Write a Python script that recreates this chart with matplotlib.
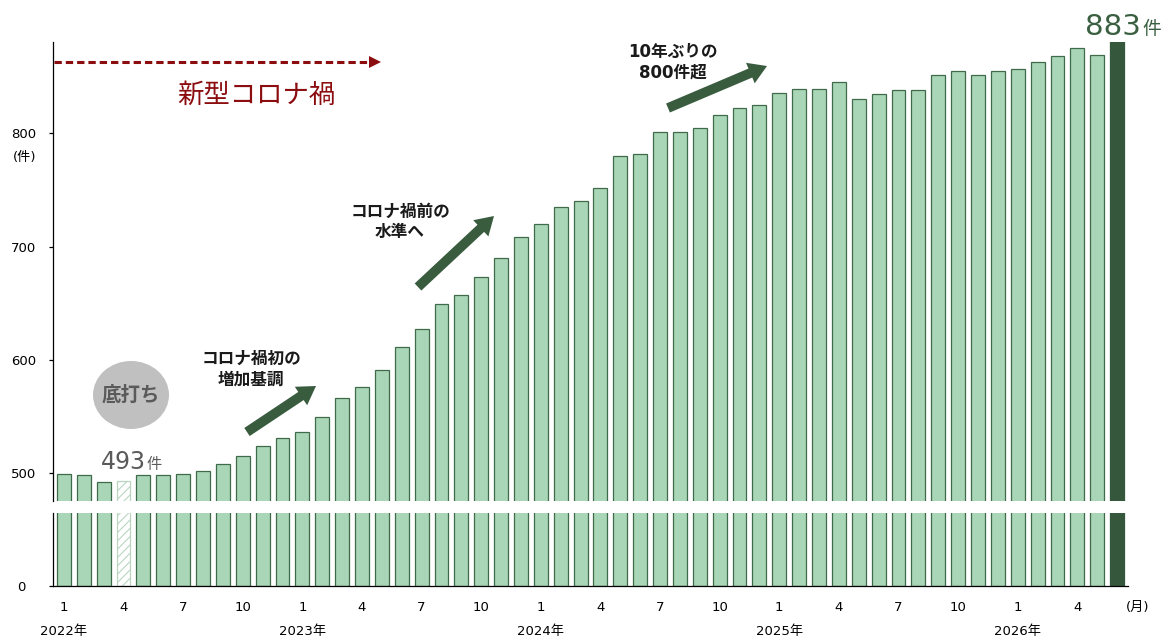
import matplotlib
matplotlib.use("Agg")
import matplotlib.pyplot as plt
import matplotlib.transforms as mtransforms
from matplotlib.lines import Line2D
from matplotlib.patches import Ellipse, FancyArrowPatch

# Latin text in a Verdana-like face, Japanese falls back to Noto CJK
plt.rcParams["font.family"] = ["DejaVu Sans", "Noto Sans CJK JP"]
plt.rcParams["hatch.linewidth"] = 0.8

# --- data -------------------------------------------------------------------
years = [2022, 2023, 2024, 2025, 2026]
months = [m for _ in years for m in range(1, 13)][:54]   # Jan 2022 .. Jun 2026
counts = [
    499, 498, 492, 493, 498, 498, 499, 502, 508, 515, 524, 531,   # 2022
    536, 549, 566, 576, 591, 611, 627, 649, 657, 673, 690, 708,   # 2023
    720, 735, 740, 752, 780, 782, 801, 801, 805, 816, 822, 825,   # 2024
    836, 839, 839, 845, 830, 835, 838, 838, 852, 855, 852, 855,   # 2025
    857, 863, 868, 875, 869, 883,                                 # 2026
]
low_idx = 3          # April 2022, the bottom (hatched)
last_idx = len(counts) - 1
month_ticks = [1, 4, 7, 10]
y_ticks = [500, 600, 700, 800]

LIGHT = "#a9d6b7"
EDGE = "#3f6b4a"
DARK = "#35573b"
ARROW = "#395c3f"
RED = "#8b0d10"

W, H = 1165, 639
fig = plt.figure(figsize=(W / 100, H / 100), dpi=100)


def fx(px):
    return px / W


def fy(py):
    return 1 - py / H


# broken y axis: upper panel for 476..881, lower stub from 0
ax_hi = fig.add_axes([fx(53), fy(500.5), fx(1128) - fx(53), fy(41.7) - fy(500.5)])
ax_lo = fig.add_axes([fx(53), fy(586), fx(1128) - fx(53), fy(513) - fy(586)])

x = list(range(len(counts)))
for ax in (ax_hi, ax_lo):
    bars = ax.bar(x, counts, width=0.7, color=LIGHT, edgecolor=EDGE, linewidth=0.9)
    bars[last_idx].set_facecolor(DARK)
    bars[last_idx].set_edgecolor(DARK)
    bars[low_idx].set_facecolor("white")
    bars[low_idx].set_edgecolor("#b9d5c0")
    bars[low_idx].set_hatch("////")
    ax.set_xlim(-0.55, len(counts) - 0.45)
    for s in ("top", "right"):
        ax.spines[s].set_visible(False)
    ax.spines["left"].set_linewidth(0.9)

ax_hi.set_ylim(475.6, 881)
ax_hi.spines["bottom"].set_visible(False)
ax_hi.set_xticks([])
ax_hi.set_yticks(y_ticks)
ax_hi.tick_params(axis="y", length=3, width=0.9, pad=9, labelsize=9.5)

ax_lo.set_ylim(0, 65)
ax_lo.set_yticks([0])
ax_lo.tick_params(axis="y", length=3, width=0.9, pad=17, labelsize=9.5)
ax_lo.spines["bottom"].set_linewidth(0.9)
tick_pos = [i for i, m in enumerate(months) if m in month_ticks]
ax_lo.set_xticks(tick_pos)
ax_lo.set_xticklabels([str(months[i]) for i in tick_pos])
ax_lo.tick_params(axis="x", length=0, pad=11, labelsize=9.5)

# year labels under each January
trans = mtransforms.blended_transform_factory(ax_lo.transData, fig.transFigure)
for k, yr in enumerate(years):
    ax_lo.text(k * 12, fy(632), f"{yr}年", transform=trans, ha="center",
               va="center", fontsize=9.5)

fig.text(fx(1138), fy(607), "(月)", ha="center", va="center", fontsize=9.5)
fig.text(fx(25), fy(157), "(件)", ha="center", va="center", fontsize=9.5)

# --- annotations ------------------------------------------------------------
# red dashed COVID period arrow
fig.add_artist(Line2D([fx(54), fx(372)], [fy(62), fy(62)], color=RED, lw=2.2,
                      ls=(0, (2.4, 1.3))))
fig.add_artist(Line2D([fx(375)], [fy(62)], color=RED, marker=">", ms=9, mew=0))
fig.text(fx(256), fy(96), "新型コロナ禍", color=RED, fontsize=19,
         ha="center", va="center")

# bottom marker
fig.add_artist(Ellipse((1.31, (H - 395) / 100), 0.76, 0.68,
                       transform=fig.dpi_scale_trans, color="#c0c0c0", lw=0))
fig.text(fx(131), fy(395), "底打ち", color="#5a5a5a", fontsize=14,
         weight="bold", ha="center", va="center")
fig.text(fx(146), fy(469), str(counts[low_idx]), color="#5a5a5a", fontsize=17,
         ha="right", va="baseline")
fig.text(fx(147), fy(469), "件", color="#5a5a5a", fontsize=11,
         ha="left", va="baseline")

fig.text(fx(1141), fy(35), str(counts[last_idx]), color="#3b6041", fontsize=21,
         ha="right", va="baseline")
fig.text(fx(1142), fy(35), "件", color="#3b6041", fontsize=13.5,
         ha="left", va="baseline")

# trend arrows with captions
trend_notes = [
    ((247, 432), (316, 386), (251, 369), "コロナ禍初の\n増加基調"),
    ((418, 287), (494, 216), (400, 222), "コロナ禍前の\n水準へ"),
    ((668, 108), (767, 66), (673, 62), "10年ぶりの\n800件超"),
]
for tail, tip, pos, label in trend_notes:
    fig.add_artist(FancyArrowPatch(
        (fx(tail[0]), fy(tail[1])), (fx(tip[0]), fy(tip[1])),
        transform=fig.transFigure,
        arrowstyle="simple,head_length=1.3,head_width=1.6,tail_width=0.7",
        mutation_scale=10, fc=ARROW, ec="none", shrinkA=0, shrinkB=0))
    fig.text(fx(pos[0]), fy(pos[1]), label, fontsize=12, weight="bold",
             ha="center", va="center", linespacing=1.2, color="#1a1a1a")

fig.savefig("out.png", dpi=100)
